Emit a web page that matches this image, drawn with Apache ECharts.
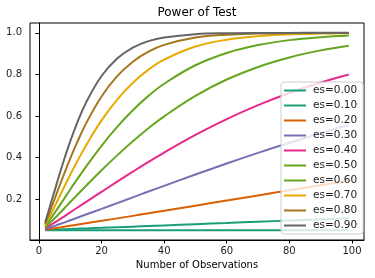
<!DOCTYPE html>
<html>
<head>
<meta charset="utf-8">
<script src="https://cdn.jsdelivr.net/npm/echarts@6/dist/echarts.min.js"></script>
<style>html,body{margin:0;padding:0;background:#fff}#c{width:375px;height:278px}</style>
</head>
<body>
<div id="c"></div>
<script>
var nobs = [2,3,4,5,6,8,10,12,15,20,25,30,35,40,50,60,70,80,90,99];
var esLabels = ['es=0.00','es=0.10','es=0.20','es=0.30','es=0.40','es=0.50','es=0.60','es=0.70','es=0.80','es=0.90'];
var p000 = [0.05,0.05,0.05,0.05,0.05,0.05,0.05,0.05,0.05,0.05,0.05,0.05,0.05,0.05,0.05,0.05,0.05,0.05,0.05,0.05];
var p010 = [0.0504,0.0511,0.0517,0.0520,0.0530,0.0540,0.0556,0.0566,0.0583,0.0611,0.0640,0.0668,0.0698,0.0727,0.0787,0.0845,0.0904,0.0964,0.1024,0.1078];
var p020 = [0.0518,0.0543,0.0567,0.0590,0.0610,0.0660,0.0713,0.0759,0.0831,0.0947,0.1066,0.1187,0.1310,0.1430,0.1678,0.1925,0.2173,0.2419,0.2664,0.2882];
var p030 = [0.0541,0.0597,0.0651,0.0700,0.0760,0.0860,0.0978,0.1085,0.1250,0.1525,0.1801,0.2079,0.2359,0.2633,0.3180,0.3709,0.4219,0.4706,0.5168,0.5559];
var p040 = [0.0574,0.0672,0.0769,0.0860,0.0960,0.1150,0.1358,0.1553,0.1851,0.2345,0.2833,0.3315,0.3785,0.4234,0.5083,0.5845,0.6518,0.7104,0.7609,0.7997];
var p050 = [0.0615,0.0769,0.0925,0.1070,0.1220,0.1530,0.1854,0.2162,0.2627,0.3381,0.4100,0.4778,0.5408,0.5981,0.6970,0.7753,0.8359,0.8816,0.9157,0.9382];
var p060 = [0.0665,0.0888,0.1112,0.1330,0.1550,0.2000,0.2460,0.2901,0.3548,0.4562,0.5471,0.6273,0.6966,0.7549,0.8440,0.9032,0.9412,0.9650,0.9794,0.9875];
var p070 = [0.0724,0.1030,0.1338,0.1630,0.1940,0.2560,0.3166,0.3745,0.4568,0.5783,0.6786,0.7598,0.8230,0.8710,0.9340,0.9673,0.9843,0.9927,0.9966,0.9984];
var p080 = [0.0792,0.1194,0.1601,0.1990,0.2400,0.3190,0.3949,0.4656,0.5618,0.6935,0.7913,0.8613,0.9096,0.9421,0.9773,0.9915,0.9969,0.9989,0.9996,0.9998];
var p090 = [0.0868,0.1380,0.1899,0.2390,0.2900,0.3880,0.4778,0.5585,0.6626,0.7921,0.8764,0.9289,0.9601,0.9780,0.9937,0.9983,0.9996,0.9999,1.0000,1.0000];
var powers = [p000,p010,p020,p030,p040,p050,p060,p070,p080,p090];
var colors = ['#1b9e77','#1b9e77','#d95f02','#7570b3','#e7298a','#66a61e','#66a61e','#e6ab02','#a6761d','#666666'];
var xTicks = [0,20,40,60,80,100];
var yTicks = [0.2,0.4,0.6,0.8,1.0];
var titleText = 'Power of Test';
var xName = 'Number of Observations';

var FONT = 'DejaVu Sans';
var chart = echarts.init(document.getElementById('c'), null, {renderer:'canvas'});
var series = powers.map(function(p, i){
  return {
    name: esLabels[i], type: 'line', smooth: 0.4, showSymbol: false, symbol: 'none',
    data: nobs.map(function(n, j){ return [n, p[j]]; }),
    lineStyle: {color: colors[i], width: 2}, itemStyle: {color: colors[i]},
    z: 2 + i * 0.01, animation: false
  };
});
chart.setOption({
  animation: false,
  textStyle: {fontFamily: FONT},
  graphic: [{type:'text', x: 197, y: 13, style: {text: titleText, fontSize: 12, fontFamily: FONT, fill: '#000', textAlign: 'center', textVerticalAlign: 'middle'}}],
  grid: {left: 30, right: 11, top: 23, bottom: 38, show: true, borderColor: '#000', borderWidth: 1, backgroundColor: 'transparent'},
  xAxis: {
    type: 'value', min: -2.85, max: 103.85,
    name: xName, nameLocation: 'middle', nameGap: 20,
    nameTextStyle: {fontSize: 10, color: '#000', fontFamily: FONT},
    axisLine: {show: true, lineStyle: {color: '#000', width: 1}},
    axisTick: {show: true, inside: false, length: 3.5, customValues: xTicks, lineStyle: {color: '#000'}},
    axisLabel: {customValues: xTicks, fontSize: 10, color: '#222', margin: 6, fontFamily: FONT},
    splitLine: {show: false}
  },
  yAxis: {
    type: 'value', min: 0.0025, max: 1.0475,
    axisLine: {show: true, lineStyle: {color: '#000', width: 1}},
    axisTick: {show: true, inside: false, length: 3.5, customValues: yTicks, lineStyle: {color: '#000'}},
    axisLabel: {customValues: yTicks, fontSize: 10, color: '#222', margin: 8, fontFamily: FONT,
      formatter: function(v){ return v.toFixed(1); }},
    splitLine: {show: false}
  },
  legend: {
    orient: 'vertical', left: 281, top: 82, itemGap: 0,
    itemWidth: 22, itemHeight: 2, icon: 'rect',
    padding: [1, 6, 1, 3],
    backgroundColor: 'rgba(255,255,255,0.8)', borderColor: '#cccccc', borderWidth: 1, borderRadius: 3,
    textStyle: {fontSize: 10.5, color: '#222', lineHeight: 15, fontFamily: FONT, padding: [0,0,0,2]},
    data: esLabels
  },
  series: series
});
</script>
</body>
</html>
